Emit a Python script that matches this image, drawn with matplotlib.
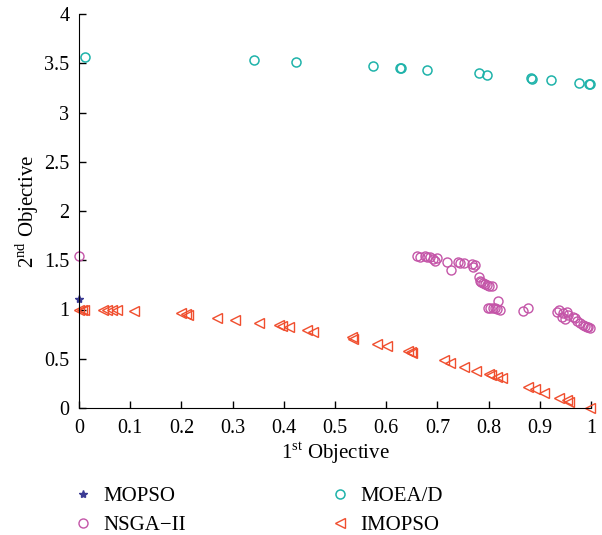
import matplotlib
matplotlib.use("Agg")
import matplotlib.pyplot as plt
from matplotlib.ticker import FormatStrFormatter, MultipleLocator

plt.rcParams['font.family'] = ['Liberation Serif', 'DejaVu Serif']
plt.rcParams['mathtext.fontset'] = 'custom'
plt.rcParams['mathtext.rm'] = 'Liberation Serif'

mopso_x = [0.0]
mopso_y = [1.11]

moead_x = [0.012, 0.342, 0.424, 0.574, 0.626, 0.628, 0.679, 0.781, 0.797, 0.883, 0.884, 0.922, 0.977, 0.996, 0.998]
moead_y = [3.56, 3.53, 3.51, 3.47, 3.455, 3.45, 3.435, 3.40, 3.385, 3.35, 3.345, 3.33, 3.30, 3.29, 3.285]

nsga_x = [0.0, 0.660, 0.666, 0.676, 0.679, 0.686, 0.692, 0.695, 0.699, 0.718, 0.727, 0.741, 0.745,
          0.751, 0.767, 0.770, 0.773, 0.782, 0.783, 0.786, 0.790, 0.793, 0.796, 0.801, 0.806,
          0.819, 0.798, 0.803, 0.808, 0.8125, 0.816, 0.822, 0.867, 0.876, 0.933, 0.938, 0.943,
          0.946, 0.949, 0.9525, 0.956, 0.9655, 0.969, 0.972, 0.9785, 0.984, 0.988, 0.992, 0.995, 0.998]
nsga_y = [1.54, 1.543, 1.536, 1.543, 1.530, 1.530, 1.510, 1.496, 1.520, 1.486, 1.401, 1.486, 1.475,
          1.469, 1.459, 1.435, 1.452, 1.327, 1.293, 1.283, 1.266, 1.259, 1.249, 1.239, 1.242,
          1.086, 1.012, 1.012, 1.012, 1.012, 1.002, 0.995, 0.985, 1.012, 0.978, 0.995, 0.927,
          0.961, 0.900, 0.978, 0.944, 0.927, 0.910, 0.883, 0.860, 0.843, 0.832, 0.826, 0.819, 0.809]

imopso_x = [0.0, 0.005, 0.01, 0.047, 0.055, 0.064, 0.075, 0.108, 0.200, 0.209, 0.213, 0.269, 0.305,
            0.352, 0.391, 0.396, 0.411, 0.445, 0.458, 0.533, 0.536, 0.583, 0.601, 0.643, 0.648,
            0.650, 0.713, 0.725, 0.752, 0.775, 0.800, 0.804, 0.816, 0.827, 0.876, 0.891, 0.908,
            0.938, 0.9525, 0.958, 0.998]
imopso_y = [1.0, 0.995, 0.99, 0.995, 0.99, 0.99, 0.99, 0.985, 0.965, 0.954, 0.945, 0.91, 0.893,
            0.866, 0.838, 0.832, 0.825, 0.792, 0.775, 0.718, 0.700, 0.650, 0.629, 0.580, 0.570,
            0.560, 0.487, 0.460, 0.419, 0.379, 0.345, 0.335, 0.318, 0.301, 0.210, 0.190, 0.155,
            0.098, 0.081, 0.064, 0.0]

c_mopso = '#3b3b94'
c_moead = '#1fb3aa'
c_nsga = '#c455a8'
c_imopso = '#f04e2e'

fig = plt.figure(figsize=(6.02, 5.35), dpi=100)
ax = fig.add_axes([79/602, 1-408/535, (591-79)/602, (408-14)/535])

ax.plot(mopso_x, mopso_y, linestyle='none', marker='*', markersize=6, color=c_mopso,
        label='MOPSO', clip_on=False)
ax.plot(moead_x, moead_y, linestyle='none', marker='o', markersize=6.5, markerfacecolor='none',
        markeredgecolor=c_moead, markeredgewidth=1.1, label='MOEA/D', clip_on=False)
ax.plot(nsga_x, nsga_y, linestyle='none', marker='o', markersize=6.5, markerfacecolor='none',
        markeredgecolor=c_nsga, markeredgewidth=1.0, label='NSGA\u2212II', clip_on=False)
ax.plot(imopso_x, imopso_y, linestyle='none', marker='<', markersize=7, markerfacecolor='none',
        markeredgecolor=c_imopso, markeredgewidth=1.0, label='IMOPSO', clip_on=False)

ax.set_xlim(0, 1)
ax.set_ylim(0, 4)
ax.xaxis.set_major_locator(MultipleLocator(0.1))
ax.yaxis.set_major_locator(MultipleLocator(0.5))
ax.xaxis.set_major_formatter(FormatStrFormatter('%g'))
ax.yaxis.set_major_formatter(FormatStrFormatter('%g'))
ax.spines['top'].set_visible(False)
ax.spines['right'].set_visible(False)
ax.tick_params(direction='in', length=5, labelsize=14.5, width=1)
ax.tick_params(axis='x', pad=8)
ax.tick_params(axis='y', pad=7)
ax.set_xlabel('1$^{\\mathrm{st}}$ Objective', fontsize=15, labelpad=1)
ax.set_ylabel('2$^{\\mathrm{nd}}$ Objective', fontsize=15, labelpad=2.5)

handles, labels = ax.get_legend_handles_labels()
order = [0, 2, 1, 3]
fig.legend([handles[i] for i in order], [labels[i] for i in order], ncol=2,
           loc='upper left', bbox_to_anchor=(54/602, 1-468/535), frameon=False,
           fontsize=15, handlelength=1.0, handletextpad=0.48, columnspacing=6.86,
           labelspacing=0.45)

fig.savefig('out.png', dpi=100)
